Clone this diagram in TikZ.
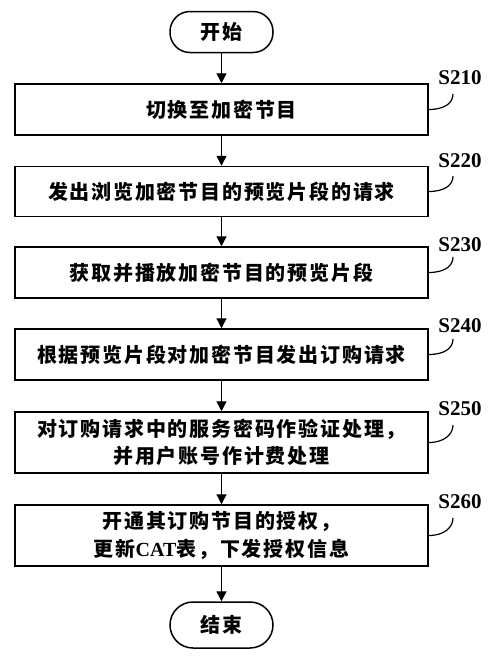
\documentclass[tikz,border=0pt]{standalone}
\usepackage{fontspec}
\setmainfont{Liberation Serif}
\newfontfamily\cjk[LetterSpace=9]{Noto Sans CJK SC}
\newfontfamily\lat{Liberation Serif}
\usetikzlibrary{arrows.meta}
\begin{document}
\begin{tikzpicture}[x=1pt,y=-1pt,
  box/.style={draw, line width=1.5pt, minimum width=413pt, align=center, inner sep=0pt,
    font=\cjk\bfseries\fontsize{20}{27.5}\selectfont},
  term/.style={draw, line width=1.5pt, minimum width=103pt, inner sep=0pt,
    font=\cjk\bfseries\fontsize{20}{24}\selectfont},
  arr/.style={line width=1.3pt, -{Triangle[length=10pt,width=10pt]}},
  lbl/.style={font=\lat\bfseries\fontsize{21}{21}\selectfont, inner sep=0pt},
  lead/.style={line width=1.2pt}]
\path[use as bounding box] (0,0) rectangle (500,667);
\node[term, minimum height=41pt, rounded corners=20pt] (start) at (221.5,32) {开始};
\node[box, minimum height=51pt] (s210) at (221.5,109.5) {切换至加密节目};
\node[box, minimum height=50pt] (s220) at (221.5,191.5) {发出浏览加密节目的预览片段的请求};
\node[box, minimum height=51pt] (s230) at (221.5,272.5) {获取并播放加密节目的预览片段};
\node[box, minimum height=51pt] (s240) at (221.5,354.5) {根据预览片段对加密节目发出订购请求};
\node[box, minimum height=61pt] (s250) at (221.5,442.5) {对订购请求中的服务密码作验证处理，\\并用户账号作计费处理};
\node[box, minimum height=61pt] (s260) at (221.5,535.5) {开通其订购节目的授权，\\更新{\lat CAT}表，下发授权信息};
\node[term, minimum height=46pt, rounded corners=23pt] (end) at (221.5,625) {结束};
\draw[arr] (start) -- (s210);
\draw[arr] (s210) -- (s220);
\draw[arr] (s220) -- (s230);
\draw[arr] (s230) -- (s240);
\draw[arr] (s240) -- (s250);
\draw[arr] (s250) -- (s260);
\draw[arr] (s260) -- (end);
\node[lbl] (l210) at (460,78) {S210};
\node[lbl] (l220) at (460,161) {S220};
\node[lbl] (l230) at (460,245) {S230};
\node[lbl] (l240) at (460,326) {S240};
\node[lbl] (l250) at (460,409) {S250};
\node[lbl] (l260) at (460,502) {S260};
\coordinate (e210) at (453,94);
\coordinate (e220) at (453,176);
\coordinate (e230) at (453,257);
\coordinate (e240) at (453,339);
\coordinate (e250) at (453,425);
\coordinate (e260) at (453,518);
\foreach \n in {210,220,230,240,250,260}
  \draw[lead] (s\n.east) .. controls +(16,0) and +(0,9) .. (e\n);
\end{tikzpicture}
\end{document}
